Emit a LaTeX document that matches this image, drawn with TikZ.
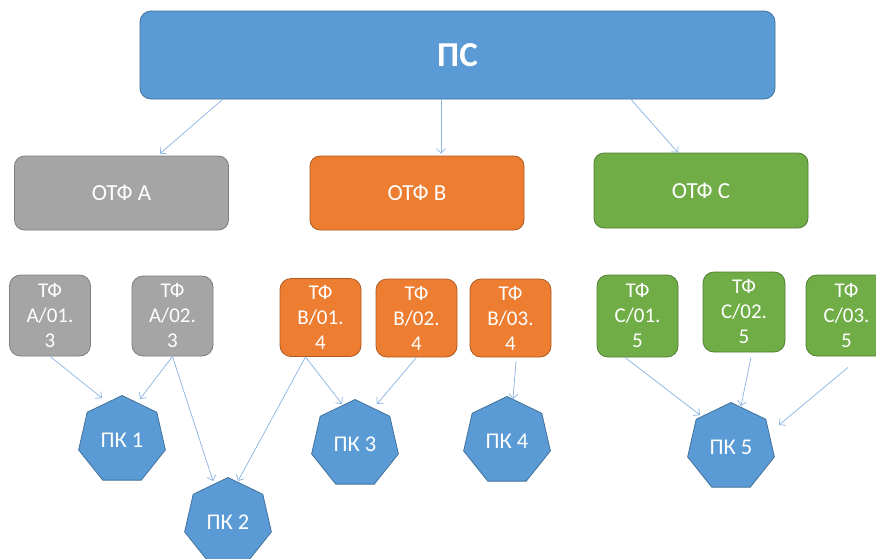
\documentclass[tikz,border=0pt]{standalone}
\usepackage{fontspec}
\setmainfont{Carlito}
\usetikzlibrary{shapes.geometric,arrows.meta}
\definecolor{psblue}{HTML}{5B9BD5}
\definecolor{psborder}{HTML}{41719C}
\definecolor{grayfill}{HTML}{A5A5A5}
\definecolor{grayborder}{HTML}{7F7F7F}
\definecolor{orangefill}{HTML}{ED7D31}
\definecolor{orangeborder}{HTML}{AE5A21}
\definecolor{greenfill}{HTML}{70AD47}
\definecolor{greenborder}{HTML}{507E32}
\definecolor{arrowblue}{HTML}{8DB6E3}
\begin{document}
\begin{tikzpicture}[x=1pt,y=-1pt,
  box/.style={draw, line width=0.8pt, rounded corners=11pt, text=white, align=center, inner sep=0pt},
  topbox/.style={box, fill=psblue, draw=psborder, minimum width=635pt, minimum height=88pt, font=\fontsize{35}{40}\selectfont\bfseries},
  otfbox/.style={box, minimum width=214pt, minimum height=74pt, rounded corners=10pt, font=\fontsize{23}{27}\selectfont},
  tfbox/.style={box, minimum width=81pt, minimum height=80pt, font=\fontsize{21}{25}\selectfont},
  grayb/.style={fill=grayfill, draw=grayborder},
  orangeb/.style={fill=orangefill, draw=orangeborder},
  greenb/.style={fill=greenfill, draw=greenborder},
  pk/.style={regular polygon, regular polygon sides=7, minimum size=89pt, inner sep=0pt, fill=psblue, draw=psborder, line width=0.8pt, text=white, font=\fontsize{22.5}{26}\selectfont},
  conn/.style={draw=arrowblue, line width=0.75pt, -{Straight Barb[length=4.5pt,width=9pt]}}
]
\useasboundingbox (0,0) rectangle (876,558);

\node[topbox] (ps) at (457.5,55) {ПС};

\node[otfbox, grayb]   (otfa) at (121.5,193) {ОТФ A};
\node[otfbox, orangeb] (otfb) at (417,193) {ОТФ B};
\node[otfbox, greenb, minimum height=75pt] (otfc) at (701,190.5) {ОТФ C};

\node[tfbox, grayb, minimum height=81pt] (ta1) at (50,315.5) {ТФ\\A/01.\\3};
\node[tfbox, grayb] (ta2) at (172.5,316) {ТФ\\A/02.\\3};
\node[tfbox, orangeb, minimum height=78pt] (tb1) at (320.5,317.5) {ТФ\\B/01.\\4};
\node[tfbox, orangeb, minimum height=78pt] (tb2) at (416.5,318) {ТФ\\B/02.\\4};
\node[tfbox, orangeb, minimum height=78pt] (tb3) at (510.5,318) {ТФ\\B/03.\\4};
\node[tfbox, greenb, minimum height=82pt] (tc1) at (637.5,316) {ТФ\\C/01.\\5};
\node[tfbox, greenb, minimum width=82pt] (tc2) at (744,312) {ТФ\\C/02.\\5};
\node[tfbox, greenb, minimum height=81pt] (tc3) at (846.5,315.5) {ТФ\\C/03.\\5};

\node[pk] (pk1) at (122,440) {ПК 1};
\node[pk] (pk2) at (228,522) {ПК 2};
\node[pk] (pk3) at (355,444) {ПК 3};
\node[pk] (pk4) at (507,441) {ПК 4};
\node[pk] (pk5) at (731,447) {ПК 5};

\draw[conn] ([xshift=83pt]ps.south west) -- ([xshift=38.5pt,yshift=2pt]otfa.north);
\draw[conn] ([xshift=-16.5pt]ps.south) -- ([xshift=24pt,yshift=2pt]otfb.north);
\draw[conn] ([xshift=173.5pt]ps.south) -- ([xshift=-23pt]otfc.north);

\draw[conn] (ta1.south) -- ([xshift=-20pt,yshift=42pt]pk1.center);
\draw[conn] (ta2.south) -- ([xshift=18pt,yshift=41pt]pk1.center);
\draw[conn] (ta2.south) -- ([xshift=-15pt,yshift=41pt]pk2.center);
\draw[conn] ([xshift=-15pt]tb1.south) -- ([xshift=10pt,yshift=41pt]pk2.center);
\draw[conn] ([xshift=-15pt]tb1.south) -- ([xshift=-13pt,yshift=40pt]pk3.center);
\draw[conn] (tb2.south) -- ([xshift=22pt,yshift=40pt]pk3.center);
\draw[conn] ([xshift=5.5pt,yshift=-4pt]tb3.south) -- ([xshift=6pt,yshift=42pt]pk4.center);
\draw[conn] ([xshift=-12.5pt]tc1.south) -- ([xshift=-31pt,yshift=32pt]pk5.center);
\draw[conn] ([xshift=7pt,yshift=-5pt]tc2.south) -- ([xshift=10pt,yshift=41pt]pk5.center);
\draw[conn] ([xshift=1.5pt,yshift=-11pt]tc3.south) -- ([xshift=48pt,yshift=22pt]pk5.center);
\end{tikzpicture}
\end{document}
